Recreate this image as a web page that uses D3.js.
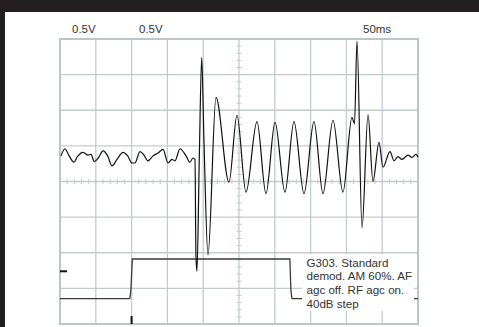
<!DOCTYPE html>
<html>
<head>
<meta charset="utf-8">
<script src="https://cdn.jsdelivr.net/npm/d3@7"></script>
<style>
  html, body { margin: 0; padding: 0; background: #fff; }
  svg { display: block; }
  text { font-family: "Liberation Sans", Arial, sans-serif; fill: #333; }
</style>
</head>
<body>
<svg id="scope" width="479" height="327"></svg>
<script>
// channel A: audio output (time in ms, volts)
var chanA_t = [1.4, 7.0, 11.2, 19.6, 23.7, 32.1, 39.1, 43.3, 47.9, 53.5, 60.1, 66.6, 72.6, 79.6, 88.0,
  94.5, 100.6, 104.7, 111.7, 117.3, 122.9, 129.9, 136.9, 143.9, 150.8, 156.4, 160.6, 167.6, 176.0, 181.6,
  185.7, 188.5, 189.9, 191.3, 194.5, 197.9, 201.0, 206.7, 217.9, 236.0, 247.2, 259.8, 275.1, 287.7, 300.3,
  314.2, 326.8, 340.8, 354.7, 367.3, 381.3, 395.2, 407.8, 411.3, 414.8, 421.8, 430.2, 437.1, 445.5, 451.1,
  460.9, 466.5, 472.1, 477.6, 486.0, 491.6, 497.2, 500];
var chanA_v = [0.36, 0.46, 0.39, 0.27, 0.34, 0.41, 0.37, 0.38, 0.28, 0.33, 0.43, 0.36, 0.22, 0.31, 0.41,
  0.36, 0.26, 0.26, 0.42, 0.37, 0.29, 0.36, 0.40, 0.45, 0.26, 0.31, 0.29, 0.46, 0.36, 0.27,
  0.33, 0.31, -1.05, -1.26, 0.30, 1.74, 0.60, -1.03, 1.18, -0.01, 0.93, -0.15, 0.84, -0.17, 0.83,
  -0.15, 0.84, -0.17, 0.84, -0.17, 0.86, -0.15, 0.90, 0.81, 1.97, -0.65, 0.94, 0.00, 0.55, 0.20,
  0.42, 0.29, 0.35, 0.31, 0.37, 0.34, 0.38, 0.34];

// channel B: AGC step input
var chanB_t = [0, 97.5, 99.0, 101.0, 321.0, 322.5, 324.0, 500];
var chanB_v = [-0.385, -0.385, -0.27, 0.172, 0.172, -0.27, -0.385, -0.385];
var chanB_offset = -1.26;   // screen position of channel B zero
var trigger_t = 100;

var topLabels = ["0.5V", "0.5V", "50ms"];
var noteLines = ["G303. Standard", "demod. AM 60%. AF", "agc off. RF agc on.", "40dB step"];

var svg = d3.select("#scope");

// dark frame round the screenshot
svg.append("rect").attr("x", 0).attr("y", 0).attr("width", 479).attr("height", 12).attr("fill", "#231f20");
svg.append("rect").attr("x", 0).attr("y", 0).attr("width", 5).attr("height", 327).attr("fill", "#231f20");

var x = d3.scaleLinear().domain([0, 500]).range([60, 418]);
var y = d3.scaleLinear().domain([-2, 2]).range([324, 39]);

var grid = svg.append("g").attr("stroke", "#c3cbcf").attr("stroke-width", 1.3);

grid.selectAll("line.v").data(x.ticks(10)).enter().append("line")
  .attr("x1", function(d) { return x(d); }).attr("x2", function(d) { return x(d); })
  .attr("y1", y(2)).attr("y2", y(-2));
grid.selectAll("line.h").data(d3.range(-2, 2.01, 0.5)).enter().append("line")
  .attr("y1", function(d) { return y(d); }).attr("y2", function(d) { return y(d); })
  .attr("x1", x(0)).attr("x2", x(500));

// minor ticks on the centre lines
grid.selectAll("line.mx").data(d3.range(0, 501, 10)).enter().append("line")
  .attr("x1", function(d) { return x(d); }).attr("x2", function(d) { return x(d); })
  .attr("y1", y(0) - 2.5).attr("y2", y(0) + 2.5).attr("stroke-width", 1);
grid.selectAll("line.my").data(d3.range(-2, 2.001, 0.1)).enter().append("line")
  .attr("y1", function(d) { return y(d); }).attr("y2", function(d) { return y(d); })
  .attr("x1", x(250) - 2.5).attr("x2", x(250) + 2.5).attr("stroke-width", 1);

// frame of the graticule
svg.append("rect").attr("x", x(0)).attr("y", y(2)).attr("width", x(500) - x(0)).attr("height", y(-2) - y(2))
  .attr("fill", "none").attr("stroke", "#bcc5c9").attr("stroke-width", 2);

// channel B trace
var ptsB = chanB_t.map(function(t, i) { return [t, chanB_v[i] + chanB_offset]; });
svg.append("path").datum(ptsB)
  .attr("fill", "none").attr("stroke", "#3a3a3a").attr("stroke-width", 1.3)
  .attr("d", d3.line().x(function(d) { return x(d[0]); }).y(function(d) { return y(d[1]); }));

// channel A trace
var ptsA = chanA_t.map(function(t, i) { return [t, chanA_v[i]]; });
svg.append("path").datum(ptsA)
  .attr("fill", "none").attr("stroke", "#111").attr("stroke-width", 1.2)
  .attr("d", d3.line().curve(d3.curveMonotoneX).x(function(d) { return x(d[0]); }).y(function(d) { return y(d[1]); }));

// markers: channel B zero and trigger point
svg.append("line").attr("x1", x(0)).attr("x2", x(0) + 7)
  .attr("y1", y(chanB_offset)).attr("y2", y(chanB_offset)).attr("stroke", "#111").attr("stroke-width", 2);
svg.append("line").attr("x1", x(trigger_t)).attr("x2", x(trigger_t))
  .attr("y1", y(-2) - 8).attr("y2", y(-2)).attr("stroke", "#111").attr("stroke-width", 2);

// labels above the graticule
var labelX = [72, 139, 363];
svg.selectAll("text.top").data(topLabels).enter().append("text")
  .attr("x", function(d, i) { return labelX[i]; }).attr("y", 32.5)
  .attr("font-size", 11.5).text(function(d) { return d; });

// note box
svg.append("rect").attr("x", 302).attr("y", 254).attr("width", 112).attr("height", 57).attr("fill", "#fff");
svg.selectAll("text.note").data(noteLines).enter().append("text")
  .attr("x", 306.5).attr("y", function(d, i) { return 266.5 + i * 13.7; })
  .attr("font-size", 11.6).attr("fill", "#222").text(function(d) { return d; });
</script>
</body>
</html>
